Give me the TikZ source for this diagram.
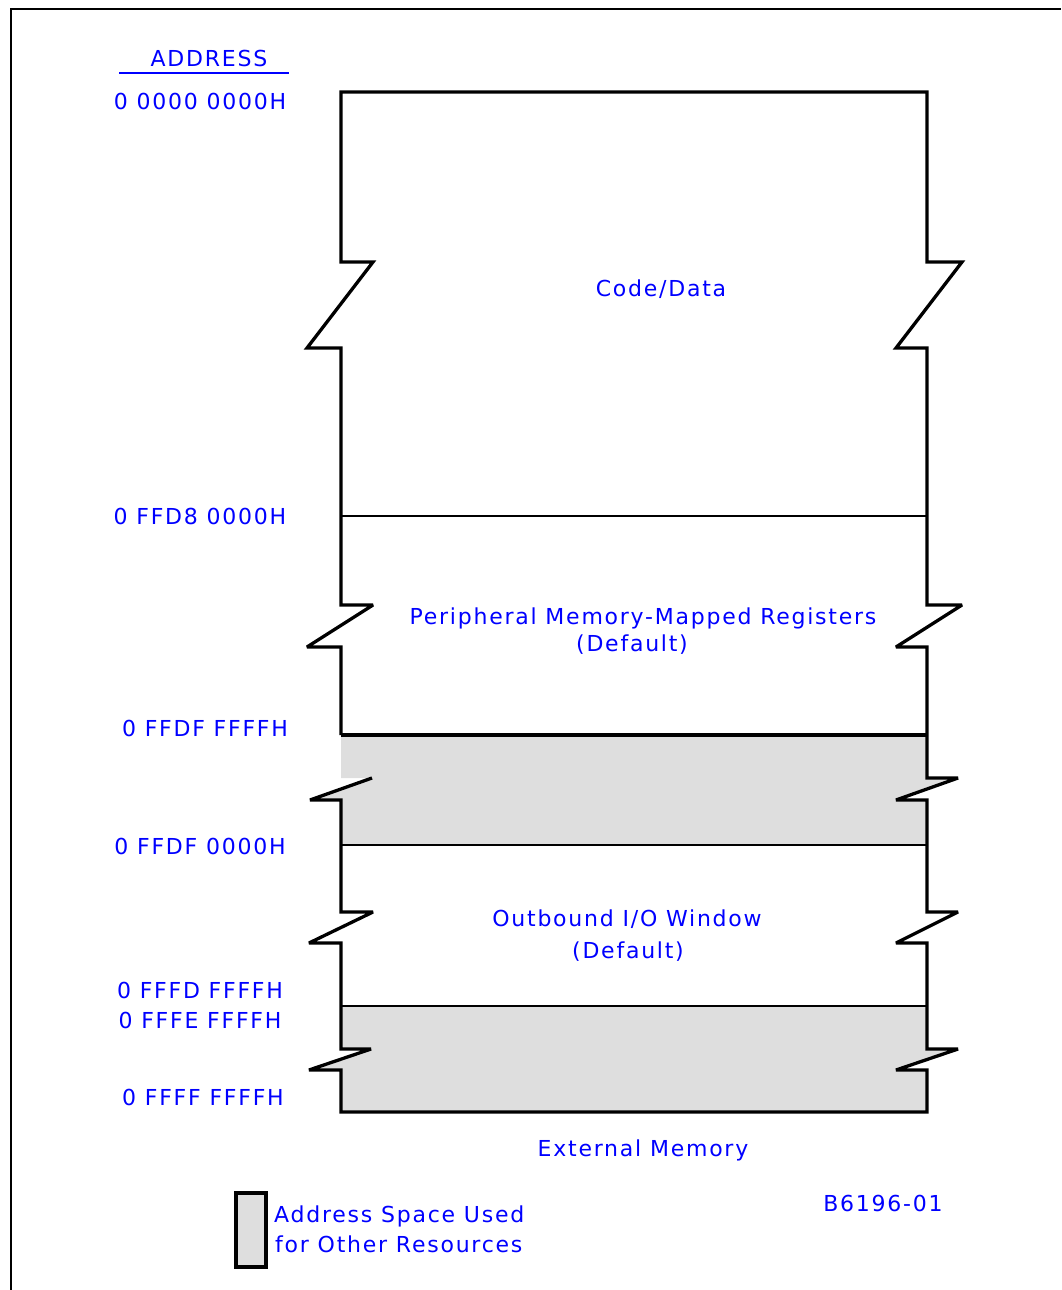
\documentclass[tikz,border=0pt]{standalone}
\usepackage{fontspec}
\setmainfont{DejaVu Sans}[LetterSpace=8]
\begin{document}
\begin{tikzpicture}[x=1pt,y=-1pt,
  lbl/.style={text=blue,font=\fontsize{22}{26}\selectfont,inner sep=0pt,anchor=center},
  outl/.style={line width=3.3pt,line join=miter,miter limit=3},
  shade/.style={fill={rgb,255:red,222;green,222;blue,222}}]
\useasboundingbox (0,0) rectangle (1061,1290);
% frame
\draw[line width=2pt] (11,1290) -- (11,9) -- (1061,9);
% shaded regions
\fill[shade] (341,735) -- (927,735) -- (927,778) -- (958,778) -- (896,800) -- (927,800) -- (927,845) -- (341,845) -- (341,800) -- (310,800) -- (372,778) -- (341,778) -- cycle;
\fill[shade] (341,1006) -- (927,1006) -- (927,1049) -- (958,1049) -- (896,1070) -- (927,1070) -- (927,1112) -- (341,1112) -- (341,1070) -- (309,1070) -- (371,1049) -- (341,1049) -- cycle;
% outline
\draw[outl] (341,735) -- (341,647) -- (307,647) -- (373,605) -- (341,605) -- (341,348) -- (307,348) -- (373,262) -- (341,262) -- (341,92) -- (927,92) -- (927,262) -- (962,262) -- (896,348) -- (927,348) -- (927,605) -- (962,605) -- (896,647) -- (927,647) -- (927,778) -- (958,778) -- (896,800) -- (927,800) -- (927,912) -- (958,912) -- (896,943) -- (927,943) -- (927,1049) -- (958,1049) -- (896,1070) -- (927,1070) -- (927,1112) -- (341,1112) -- (341,1070) -- (309,1070) -- (371,1049) -- (341,1049) -- (341,943) -- (309,943) -- (373,912) -- (341,912) -- (341,800) -- (310,800) -- (372,778);
% dividers
\draw[line width=2.8pt] (341,516) -- (927,516);
\draw[line width=3.3pt] (341,735) -- (927,735);
\draw[line width=2.3pt] (341,845) -- (927,845);
\draw[line width=2.3pt] (341,1006) -- (927,1006);
% address header
\node[lbl] (addr) at (209,58) {ADDRESS};
\draw[blue,line width=2.8pt] (119,73) -- (289,73);
\node[lbl] (a0) at (200,101) {0 0000 0000H};
\node[lbl] (a1) at (200,516) {0 FFD8 0000H};
\node[lbl] (a2) at (205,728) {0 FFDF FFFFH};
\node[lbl] (a3) at (200,846) {0 FFDF 0000H};
\node[lbl] (a4) at (200,990) {0 FFFD FFFFH};
\node[lbl] (a5) at (200,1020) {0 FFFE FFFFH};
\node[lbl] (a6) at (203,1097) {0 FFFF FFFFH};
% region labels
\node[lbl] (code) at (661,289) {Code/Data};
\node[lbl] (per1) at (643,618) {Peripheral Memory-Mapped Registers};
\node[lbl] (per2) at (632,645) {(Default)};
\node[lbl] (out1) at (627,919) {Outbound I/O Window};
\node[lbl] (out2) at (628,952) {(Default)};
\node[lbl] (ext) at (643,1150) {External Memory};
\node[lbl] (fig) at (883,1203) {B6196-01};
% legend
\draw[shade,line width=4pt] (236,1193) rectangle (266,1267);
\node[lbl,anchor=west] (leg1) at (274,1216) {Address Space Used};
\node[lbl,anchor=west] (leg2) at (275,1244) {for Other Resources};
\end{tikzpicture}
\end{document}
